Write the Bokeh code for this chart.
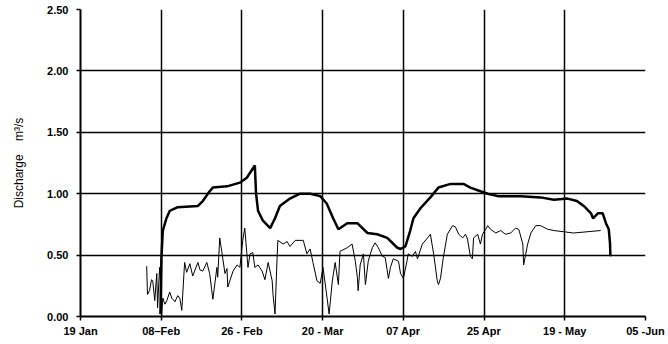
from bokeh.plotting import figure
from bokeh.models import Range1d, FixedTicker
from bokeh.embed import file_html
from bokeh.resources import INLINE

# x = days since 19 Jan
tick_days = [0, 20, 40, 60, 80, 100, 120, 140]
tick_labels = ["19 Jan", "08\u2013Feb", "26 - Feb", "20 - Mar", "07 Apr", "25 Apr", "19 - May", "05 -Jun"]
y_ticks = [0.0, 0.5, 1.0, 1.5, 2.0, 2.5]
y_labels = ["0.00", "0.50", "1.00", "1.50", "2.00", "2.50"]

thick_day = [19.8, 20.05, 20.4, 21.3, 22.1, 24.1, 29.1, 30.3, 32.0, 32.8, 36.3, 39.5, 41.2, 43.2,
             43.5, 44.0, 45.2, 47.0, 48.2, 49.4, 51.9, 54.4, 56.9, 59.4, 61.0, 62.6, 63.9, 66.1,
             68.6, 71.1, 73.5, 76.0, 78.5, 79.3, 80.5, 81.7, 82.5, 84.2, 86.7, 88.7, 91.7, 94.9,
             96.6, 99.1, 100.9, 103.4, 109.1, 114.0, 117.3, 120.7, 123.0, 124.7, 126.5, 127.0,
             128.2, 129.4, 130.2, 130.9, 131.2, 131.3]
thick_q = [0.02, 0.48, 0.70, 0.80, 0.86, 0.89, 0.90, 0.94, 1.02, 1.05, 1.06, 1.09, 1.13, 1.23,
           1.00, 0.86, 0.78, 0.72, 0.80, 0.90, 0.96, 1.00, 1.00, 0.98, 0.92, 0.80, 0.71, 0.76,
           0.76, 0.68, 0.67, 0.64, 0.56, 0.55, 0.57, 0.70, 0.80, 0.88, 0.97, 1.05, 1.08, 1.08,
           1.05, 1.02, 1.00, 0.98, 0.98, 0.97, 0.95, 0.96, 0.94, 0.90, 0.84, 0.80,
           0.84, 0.84, 0.76, 0.71, 0.60, 0.49]

thin_day = [16.4, 16.6, 17.1, 17.6, 17.9, 18.4, 18.9, 19.1, 19.6, 19.9, 20.1, 20.4, 20.9, 21.4,
            22.1, 22.6, 23.4, 24.1, 24.6, 25.1, 25.8, 26.3, 27.1, 27.8, 29.1, 29.6, 30.3, 31.3,
            32.0, 32.5, 32.8, 33.8, 34.0, 34.5, 35.0, 35.8, 36.3, 36.5, 37.8, 38.8, 39.5, 40.2,
            40.7, 41.2, 41.5, 42.0, 42.7, 43.2, 44.0, 45.0, 45.7, 46.5, 47.5, 47.7, 48.2, 48.7,
            48.9, 50.2, 51.2, 51.9, 53.2, 53.9, 55.2, 56.1, 56.9, 57.6, 58.6, 59.4, 60.1, 61.1,
            61.6, 62.4, 63.1, 63.9, 64.3, 66.1, 67.3, 68.1, 68.6, 68.8, 69.3, 70.1, 70.6, 71.3,
            72.3, 73.0, 73.8, 74.8, 75.5, 76.3, 76.8, 77.5, 78.8, 79.3, 80.0, 80.9, 81.2, 82.2,
            83.0, 83.5, 84.7, 86.0, 86.7, 87.5, 88.4, 88.7, 89.2, 89.9, 90.9, 92.2, 92.9, 93.7,
            94.7, 95.4, 95.9, 96.6, 97.1, 97.4, 98.4, 99.1, 99.6, 100.4, 100.9, 101.6, 102.9,
            104.1, 105.3, 106.6, 107.8, 108.6, 109.6, 109.8, 110.8, 111.6, 112.8, 114.0, 115.8,
            117.3, 122.2, 128.9]
thin_q = [0.41, 0.18, 0.21, 0.30, 0.29, 0.13, 0.35, 0.07, 0.40, 0.25, 0.00, 0.15, 0.10, 0.13,
          0.20, 0.15, 0.12, 0.17, 0.15, 0.05, 0.44, 0.36, 0.43, 0.33, 0.44, 0.38, 0.37, 0.44,
          0.35, 0.22, 0.14, 0.40, 0.32, 0.64, 0.53, 0.35, 0.39, 0.24, 0.37, 0.42, 0.40, 0.62,
          0.72, 0.52, 0.40, 0.51, 0.52, 0.40, 0.42, 0.37, 0.30, 0.44, 0.29, 0.18, 0.02, 0.47,
          0.62, 0.59, 0.61, 0.57, 0.62, 0.62, 0.62, 0.51, 0.55, 0.44, 0.29, 0.27, 0.40, 0.15,
          0.02, 0.29, 0.44, 0.26, 0.53, 0.56, 0.59, 0.45, 0.32, 0.21, 0.42, 0.51, 0.26, 0.45,
          0.56, 0.60, 0.56, 0.49, 0.48, 0.31, 0.40, 0.47, 0.45, 0.35, 0.31, 0.45, 0.51, 0.49,
          0.53, 0.47, 0.59, 0.64, 0.67, 0.51, 0.29, 0.26, 0.31, 0.48, 0.67, 0.74, 0.73, 0.67,
          0.64, 0.67, 0.63, 0.49, 0.47, 0.64, 0.67, 0.59, 0.67, 0.71, 0.74, 0.71, 0.68,
          0.70, 0.67, 0.68, 0.72, 0.71, 0.59, 0.42, 0.59, 0.68, 0.74, 0.74, 0.71,
          0.70, 0.68, 0.70]

p = figure(width=668, height=344, output_backend="svg", toolbar_location=None,
           x_range=Range1d(0, 140), y_range=Range1d(0, 2.5),
           min_border_left=80, min_border_right=23, min_border_top=9, min_border_bottom=28)
p.outline_line_color = None
p.background_fill_color = "white"
p.border_fill_color = "white"

p.xaxis.ticker = FixedTicker(ticks=tick_days)
p.xaxis.major_label_overrides = {t: l for t, l in zip(tick_days, tick_labels)}
p.yaxis.ticker = FixedTicker(ticks=y_ticks)
p.yaxis.major_label_overrides = {t: l for t, l in zip(y_ticks, y_labels)}

for ax in (p.xaxis[0], p.yaxis[0]):
    ax.axis_line_color = "black"
    ax.axis_line_width = 2
    ax.major_tick_line_color = "black"
    ax.major_tick_line_width = 1.5
    ax.major_tick_out = 4
    ax.major_tick_in = 0
    ax.minor_tick_line_color = None
    ax.major_label_text_font = "Liberation Sans"
    ax.major_label_text_font_size = "11px"
    ax.major_label_text_font_style = "bold"
    ax.major_label_text_color = "black"

p.xaxis.major_label_standoff = 4
p.yaxis.major_label_standoff = 8

p.yaxis.axis_label = "Discharge\u00a0\u00a0\u00a0\u00a0m\u00b3/s"
p.yaxis.axis_label_text_font = "Liberation Sans"
p.yaxis.axis_label_text_font_size = "12px"
p.yaxis.axis_label_text_font_style = "normal"
p.yaxis.axis_label_text_color = "black"
p.yaxis.axis_label_standoff = 18

p.xgrid.grid_line_color = "black"
p.xgrid.grid_line_width = 1.5
p.ygrid.grid_line_color = "black"
p.ygrid.grid_line_width = 1.5

p.line(thin_day, thin_q, line_color="black", line_width=1)
p.line(thick_day, thick_q, line_color="black", line_width=2.5)

open("out.html", "w").write(file_html(p, INLINE))
